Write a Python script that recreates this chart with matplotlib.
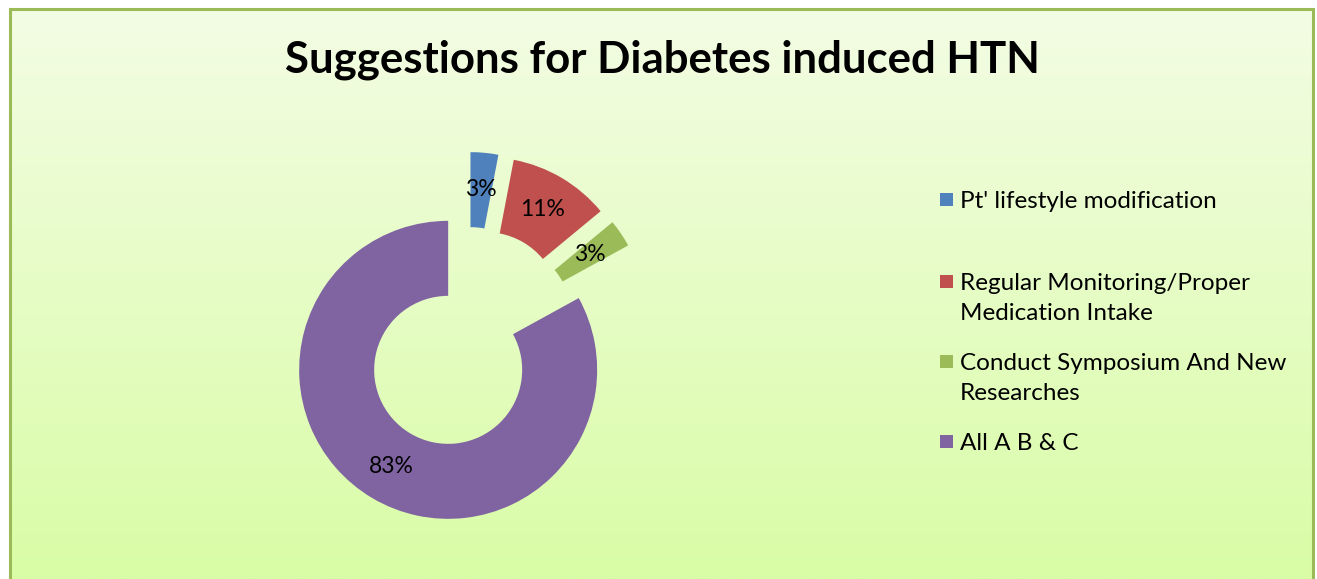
import numpy as np
import matplotlib.pyplot as plt
from matplotlib.patches import Rectangle

categories = ["Pt' lifestyle modification",
              "Regular Monitoring/Proper\nMedication Intake",
              "Conduct Symposium And New\nResearches",
              "All A B & C"]
values = [3, 11, 3, 83]
colors = ["#4F81BD", "#C0504D", "#9BBB59", "#8064A2"]
title = "Suggestions for Diabetes induced HTN"

W, H = 1317, 579
plt.rcParams['font.family'] = ['Lato', 'DejaVu Sans']

fig = plt.figure(figsize=(W / 100, H / 100), dpi=100)
ax = fig.add_axes([0, 0, 1, 1])

# gradient background inside the frame
top = np.array([243, 253, 228]) / 255
bot = np.array([217, 252, 166]) / 255
t = np.linspace(0, 1, 256)[:, None]
grad = (top * (1 - t) + bot * t)[:, None, :]
ax.imshow(grad, extent=(10, 1313, 0, H - 9), aspect='auto', zorder=0)
ax.add_patch(Rectangle((10, -20), 1303, H - 9 + 20, fill=False,
                       edgecolor="#9BBB59", lw=2.2, zorder=1))

# donut, every slice pulled out a little
wedges, texts, autotexts = ax.pie(
    values, colors=colors, startangle=90, counterclock=False,
    center=(467, H - 338), radius=149, explode=[37] * len(values),
    wedgeprops=dict(width=75, edgecolor='none'),
    autopct='%1.0f%%', pctdistance=0.75,
    textprops=dict(fontsize=16.5, color='black'), frame=True)
ax.set_xlim(0, W)
ax.set_ylim(0, H)
ax.set_aspect('equal')
ax.axis('off')
for w in wedges:
    w.set_zorder(2)
for a in autotexts:
    a.set_zorder(3)

ax.text(662, H - 60, title, ha='center', va='center', fontsize=31.5,
        fontweight='bold', zorder=3)

# legend (lines placed one by one, Excel spacing)
leg_y = [199, 281, 361, 441]
for cat, col, y in zip(categories, colors, leg_y):
    ax.add_patch(Rectangle((940, H - y - 6.5), 13, 13, facecolor=col,
                           edgecolor='none', zorder=3))
    for i, line in enumerate(cat.split('\n')):
        ax.text(960, H - y - 31 * i, line, ha='left', va='center_baseline',
                fontsize=17.5, zorder=3)

fig.savefig('out.png', dpi=100)
